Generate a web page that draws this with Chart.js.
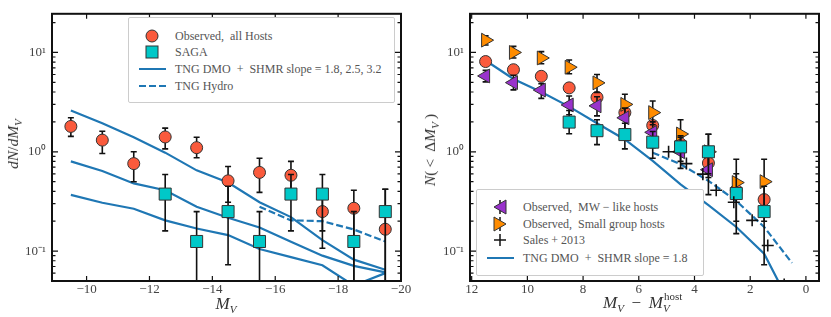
<!DOCTYPE html>
<html>
<head>
  <title>Satellite luminosity functions</title>
  <style>
    body { margin: 0; background: #fff; font-family: 'Liberation Serif', serif; color: #333; }
    #wrap { position: relative; width: 831px; height: 317px; }
    canvas { position: absolute; top: 0; }
    .lab { position: absolute; font-size: 17px; white-space: nowrap; color: #333; }
    .lab i { font-style: italic; }
    .lab sub { font-size: 11px; vertical-align: -4px; line-height: 0; }
    .rot { transform: translate(-50%, -50%) rotate(-90deg); font-size: 15.5px; }
    .hor { transform: translate(-50%, -50%); }
    .ss { display: inline-block; position: relative; width: 20px; height: 10px; }
    .ss .sp { position: absolute; left: 1px; top: -8px; font-size: 11px; }
    .ss .sb { position: absolute; left: 0; top: 4px; font-size: 11px; font-style: italic; }
    .legend { position: absolute; background: #fff; border: 1px solid #ccc; border-radius: 2px; font-size: 12px; color: #555; }
    .legend .row { position: absolute; left: 8px; height: 16px; display: flex; align-items: center; white-space: nowrap; }
    .legend svg { width: 30px; height: 16px; margin-right: 8px; }
  </style>
  <script src="https://cdn.jsdelivr.net/npm/chart.js"></script>
</head>
<body>
<div id="wrap">
  <canvas id="left" width="415" height="317" style="left:0"></canvas>
  <canvas id="right" width="416" height="317" style="left:415px"></canvas>

  <div class="lab rot" style="left:13px; top:144px"><i>dN</i>/<i>dM</i><sub><i>V</i></sub></div>
  <div class="lab hor" style="left:226px; top:304px"><i>M</i><sub><i>V</i></sub></div>
  <div class="lab rot" style="left:430px; top:150px"><i>N</i>(&thinsp;&lt;&thinsp; Δ<i>M</i><sub><i>V</i></sub>&thinsp;)</div>
  <div class="lab hor" style="left:643px; top:303px"><i>M</i><sub><i>V</i></sub> &thinsp;−&thinsp; <i>M</i><span class="ss"><span class="sp">host</span><span class="sb">V</span></span></div>

  <div class="legend" style="left:128px; top:17px; width:265px; height:84px">
    <div class="row" style="top:10px"><svg><circle cx="15" cy="8" r="6" fill="#fa5a3c" stroke="#333"/></svg>Observed,&nbsp; all Hosts</div>
    <div class="row" style="top:26px"><svg><rect x="9" y="2" width="12" height="12" fill="#00c8c8" stroke="#333"/></svg>SAGA</div>
    <div class="row" style="top:43px"><svg><line x1="2" y1="8" x2="29" y2="8" stroke="#1f77b4" stroke-width="2"/></svg>TNG DMO &nbsp;+&nbsp; SHMR slope = 1.8, 2.5, 3.2</div>
    <div class="row" style="top:60px"><svg><line x1="2" y1="8" x2="29" y2="8" stroke="#1f77b4" stroke-width="2" stroke-dasharray="7,3"/></svg>TNG Hydro</div>
  </div>

  <div class="legend" style="left:476px; top:189px; width:226px; height:85px">
    <div class="row" style="top:9px"><svg><line x1="15" y1="1" x2="15" y2="15" stroke="#111" stroke-width="1.5"/><polygon points="9,8 21,1 21,15" fill="#9932cc" stroke="#333"/></svg>Observed,&nbsp; MW − like hosts</div>
    <div class="row" style="top:26px"><svg><line x1="15" y1="1" x2="15" y2="15" stroke="#111" stroke-width="1.5"/><polygon points="21,8 9,1 9,15" fill="#ff8c00" stroke="#333"/></svg>Observed,&nbsp; Small group hosts</div>
    <div class="row" style="top:42px"><svg><line x1="9" y1="8" x2="21" y2="8" stroke="#111" stroke-width="1.5"/><line x1="15" y1="2" x2="15" y2="14" stroke="#111" stroke-width="1.5"/></svg>Sales + 2013</div>
    <div class="row" style="top:60px"><svg><line x1="2" y1="8" x2="29" y2="8" stroke="#1f77b4" stroke-width="2"/></svg>TNG DMO &nbsp;+&nbsp; SHMR slope = 1.8</div>
  </div>
</div>
<script>
// ---- left panel: dN/dM_V ----
const magBins = [-9.5, -10.5, -11.5, -12.5, -13.5, -14.5, -15.5, -16.5, -17.5, -18.5, -19.5];
const obsAll = [1.80, 1.31, 0.76, 1.41, 1.10, 0.51, 0.62, 0.58, 0.25, 0.27, 0.166];
const obsAllLo = [1.43, 0.96, 0.50, 1.07, 0.87, 0.31, 0.39, 0.40, 0.107, 0.001, 0.001];
const obsAllHi = [2.2, 1.61, 1.0, 1.73, 1.40, 0.71, 0.86, 0.80, 0.40, 0.41, 0.42];

const sagaBins = [-12.5, -13.5, -14.5, -15.5, -16.5, -17.5, -18.5, -19.5];
const saga = [0.375, 0.125, 0.25, 0.125, 0.375, 0.375, 0.125, 0.25];
const sagaLo = [0.16, 0.001, 0.073, 0.001, 0.16, 0.16, 0.001, 0.001];
const sagaHi = [0.59, 0.25, 0.45, 0.25, 0.59, 0.59, 0.25, 0.42];

const tngSlope18 = [2.6, 1.94, 1.40, 0.98, 0.65, 0.49, 0.31, 0.22, 0.129, 0.082, 0.065];
const tngSlope25 = [0.80, 0.64, 0.48, 0.41, 0.28, 0.217, 0.173, 0.124, 0.09, 0.071, 0.061];
const tngSlope32 = [0.368, 0.307, 0.267, 0.204, 0.169, 0.145, 0.105, 0.087, 0.072, 0.045, 0.06];
const hydroBins = [-15.5, -16.5, -17.5, -18.5, -19.5];
const tngHydro = [0.28, 0.204, 0.20, 0.165, 0.125];

const leftXTicks = [-10, -12, -14, -16, -18, -20];

// ---- right panel: N(< dM_V) ----
const dmBins = [11.5, 10.5, 9.5, 8.5, 7.5, 6.5, 5.5, 4.5, 3.5, 2.5, 1.5];
const cumAll = [8.1, 6.7, 5.75, 4.4, 3.53, 2.48, 1.84, 1.2, 0.77, 0.41, 0.33];
const cumGroup = [13.3, 10, 8.8, 7.1, 4.94, 3.0, 2.48, 1.51, 1.0, 0.49, 0.5];
const cumGroupLo = [11.9, 8.8, 7.7, 6.1, 3.95, 2.27, 1.87, 1.05, 0.55, 0.2, 0.2];
const cumGroupHi = [14.7, 11.5, 10.2, 8.4, 6.0, 3.8, 3.25, 2.1, 1.5, 0.84, 0.84];
const mwBins = [11.5, 10.5, 9.5, 8.5, 7.5, 6.5, 5.5, 4.5, 3.5];
const cumMW = [5.8, 4.97, 4.18, 2.96, 2.9, 2.2, 1.57, 1.0, 0.66];
const cumMWLo = [5.06, 4.2, 3.45, 2.36, 2.3, 1.7, 1.1, 0.68, 0.37];
const cumMWHi = [6.6, 5.9, 4.86, 3.64, 3.58, 2.75, 2.0, 1.4, 1.0];
const sagaCumBins = [8.5, 7.5, 6.5, 5.5, 4.5, 3.5, 2.5, 1.5];
const cumSaga = [1.99, 1.63, 1.49, 1.25, 1.12, 1.0, 0.38, 0.25];
const cumSagaLo = [1.52, 1.18, 1.07, 0.86, 0.8, 0.6, 0.15, 0.073];
const cumSagaHi = [2.6, 2.1, 1.94, 1.6, 1.45, 1.5, 0.6, 0.45];
const salesX = [4.93, 4.29, 3.70, 3.22, 2.59, 1.93, 1.37, 0.78];
const salesY = [1.0, 0.76, 0.595, 0.41, 0.31, 0.204, 0.114, 0.046];
const tngCumBins = [11.5, 10.5, 9.5, 8.5, 7.5, 6.5, 5.5, 4.5, 3.5, 2.5, 1.5, 0.5];
const tngCum = [8.3, 5.4, 4.0, 2.85, 1.94, 1.33, 0.81, 0.47, 0.29, 0.175, 0.094, 0.027];
const hydroCumBins = [5.5, 4.5, 3.5, 2.5, 1.5, 0.5];
const hydroCum = [0.98, 0.75, 0.51, 0.32, 0.175, 0.076];

const rightXTicks = [12, 10, 8, 6, 4, 2, 0];

const yMajor = [0.1, 1, 10];
const yMajorText = ['10\u207B\u00B9', '10\u2070', '10\u00B9'];
const yRange = [0.05, 24.5];

const red = '#fa5a3c', cyan = '#00c8c8', blue = '#1f77b4', orange = '#ff8c00', purple = '#9932cc';

function pts(xs, ys) { return xs.map((x, i) => ({x: x, y: ys[i]})); }

function yAllTicks() {
  const out = [];
  for (let d = -2; d <= 1; d++) {
    for (let m = 1; m <= 9; m++) {
      const v = +(m * Math.pow(10, d)).toPrecision(3);
      if (v >= yRange[0] && v <= yRange[1]) out.push(v);
    }
  }
  return out;
}

function fmtMinus(v) { return String(v).replace('-', '\u2212'); }

// error bars go under each dataset, inward ticks and frame on top
const decor = {
  id: 'decor',
  beforeDatasetDraw(chart, args) {
    const ds = chart.data.datasets[args.index];
    if (!ds.errLo) return;
    const ctx = chart.ctx, a = chart.chartArea, ys = chart.scales.y;
    ctx.save();
    ctx.beginPath();
    ctx.rect(a.left, a.top, a.right - a.left, a.bottom - a.top);
    ctx.clip();
    ctx.strokeStyle = '#111';
    ctx.lineWidth = 1.6;
    args.meta.data.forEach((p, i) => {
      const top = ys.getPixelForValue(ds.errHi[i]);
      const bot = ys.getPixelForValue(ds.errLo[i]);
      ctx.beginPath();
      ctx.moveTo(p.x, top); ctx.lineTo(p.x, bot);
      ctx.moveTo(p.x - 3, top); ctx.lineTo(p.x + 3, top);
      ctx.moveTo(p.x - 3, bot); ctx.lineTo(p.x + 3, bot);
      ctx.stroke();
    });
    ctx.restore();
  },
  afterDraw(chart) {
    const ctx = chart.ctx, a = chart.chartArea;
    const xs = chart.scales.x, ys = chart.scales.y;
    ctx.save();
    ctx.strokeStyle = '#111';
    ctx.lineWidth = 1.2;
    ctx.beginPath();
    yAllTicks().forEach(v => {
      const p = ys.getPixelForValue(v);
      const len = yMajor.includes(v) ? 6 : 3.5;
      ctx.moveTo(a.left, p); ctx.lineTo(a.left + len, p);
      ctx.moveTo(a.right, p); ctx.lineTo(a.right - len, p);
    });
    chart.options.xTickVals.forEach(v => {
      const p = xs.getPixelForValue(v);
      ctx.moveTo(p, a.bottom); ctx.lineTo(p, a.bottom - 5);
      ctx.moveTo(p, a.top); ctx.lineTo(p, a.top + 5);
    });
    ctx.stroke();
    ctx.lineWidth = 2;
    ctx.strokeRect(a.left, a.top, a.right - a.left, a.bottom - a.top);
    ctx.restore();
  }
};

function makeOptions(xMin, xMax, xTicks, yWidth, padRight) {
  return {
    responsive: false,
    animation: false,
    xTickVals: xTicks,
    layout: {padding: {left: 0, right: padRight, top: 11, bottom: 0}},
    plugins: {legend: {display: false}, tooltip: {enabled: false}},
    scales: {
      x: {
        type: 'linear', reverse: true, min: xMin, max: xMax,
        grid: {display: false, drawTicks: false}, border: {display: false},
        afterBuildTicks: s => { s.ticks = xTicks.map(v => ({value: v})); },
        afterFit: s => { s.height = 36; },
        ticks: {autoSkip: false, maxRotation: 0, padding: 1, color: '#444',
          font: {family: 'Liberation Serif', size: 13},
          callback: v => fmtMinus(v)}
      },
      y: {
        type: 'logarithmic', min: yRange[0], max: yRange[1],
        grid: {display: false, drawTicks: false}, border: {display: false},
        afterBuildTicks: s => { s.ticks = yAllTicks().map(v => ({value: v})); },
        afterFit: s => { s.width = yWidth; },
        ticks: {autoSkip: false, padding: 6, color: '#444',
          font: {family: 'Liberation Serif', size: 13},
          callback: v => { const k = yMajor.indexOf(v); return k >= 0 ? yMajorText[k] : ''; }}
      }
    }
  };
}

function markers(data, style, color, radius, order, lo, hi, rot) {
  const ds = {type: 'scatter', data: data, pointStyle: style, pointRadius: radius,
    pointRotation: rot || 0, backgroundColor: color, borderColor: '#333',
    pointBorderWidth: 1, showLine: false, order: order};
  if (lo) { ds.errLo = lo; ds.errHi = hi; }
  return ds;
}

function line(data, dashed, order) {
  return {type: 'line', data: data, borderColor: blue, borderWidth: 2.2,
    borderDash: dashed ? [7, 3] : [], pointRadius: 0, fill: false, tension: 0, order: order};
}

new Chart(document.getElementById('left'), {
  type: 'scatter',
  data: {datasets: [
    line(pts(magBins, tngSlope18), false, 10),
    line(pts(magBins, tngSlope25), false, 10),
    line(pts(magBins, tngSlope32), false, 10),
    line(pts(hydroBins, tngHydro), true, 10),
    markers(pts(magBins, obsAll), 'circle', red, 6, 5, obsAllLo, obsAllHi),
    markers(pts(sagaBins, saga), 'rect', cyan, 8.5, 4, sagaLo, sagaHi)
  ]},
  options: makeOptions(-20, -8.9, leftXTicks, 52, 14),
  plugins: [decor]
});

new Chart(document.getElementById('right'), {
  type: 'scatter',
  data: {datasets: [
    line(pts(tngCumBins, tngCum), false, 10),
    line(pts(hydroCumBins, hydroCum), true, 10),
    markers(pts(dmBins, cumAll), 'circle', red, 6, 8),
    markers(pts(dmBins, cumGroup), 'triangle', orange, 8, 7, cumGroupLo, cumGroupHi, 90),
    markers(pts(mwBins, cumMW), 'triangle', purple, 8, 6, cumMWLo, cumMWHi, -90),
    markers(pts(sagaCumBins, cumSaga), 'rect', cyan, 8.5, 5, cumSagaLo, cumSagaHi),
    {type: 'scatter', data: pts(salesX, salesY), pointStyle: 'cross', pointRadius: 6,
      borderColor: '#111', pointBorderWidth: 1.6, order: 4}
  ]},
  options: makeOptions(-0.47, 12.06, rightXTicks, 55, 12),
  plugins: [decor]
});
</script>
</body>
</html>
